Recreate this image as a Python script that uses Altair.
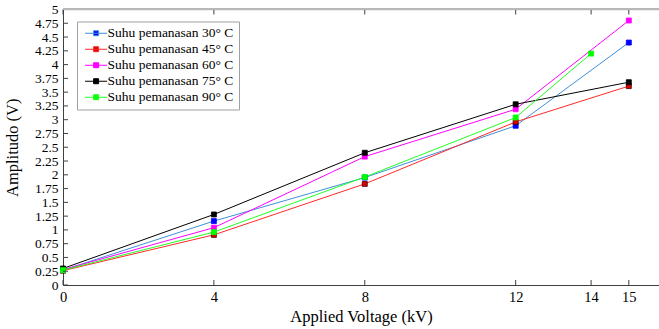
import altair as alt
import pandas as pd

# ---- data ----
series_names = ["Suhu pemanasan 30° C", "Suhu pemanasan 45° C", "Suhu pemanasan 60° C",
                "Suhu pemanasan 75° C", "Suhu pemanasan 90° C"]
voltage_30 = [0, 4, 8, 12, 15]
amp_30 = [0.27, 1.16, 1.95, 2.89, 4.40]
voltage_45 = [0, 4, 8, 12, 15]
amp_45 = [0.26, 0.91, 1.835, 2.96, 3.61]
voltage_60 = [0, 4, 8, 12, 15]
amp_60 = [0.28, 1.04, 2.33, 3.19, 4.80]
voltage_75 = [0, 4, 8, 12, 15]
amp_75 = [0.30, 1.28, 2.40, 3.28, 3.68]
voltage_90 = [0, 4, 8, 12, 14]
amp_90 = [0.27, 0.96, 1.96, 3.04, 4.20]

x_ticks = [0, 4, 8, 12, 14, 15]
y_ticks = [0, 0.25, 0.5, 0.75, 1, 1.25, 1.5, 1.75, 2, 2.25, 2.5, 2.75, 3, 3.25,
           3.5, 3.75, 4, 4.25, 4.5, 4.75, 5]

line_colors = ["#3f8fd9", "#ff2a2a", "#ff00ff", "#000000", "#22ff22"]
marker_fill = ["#0000ff", "#dd0000", "#ff00ff", "#000000", "#00ff00"]
marker_stroke = ["#0000ff", "#400000", "#ff00ff", "#000000", "#00ff00"]

xs = [voltage_30, voltage_45, voltage_60, voltage_75, voltage_90]
ys = [amp_30, amp_45, amp_60, amp_75, amp_90]
rows = []
for name, xv, yv in zip(series_names, xs, ys):
    for a, b in zip(xv, yv):
        rows.append({"series": name, "kv": a, "amp": b})
df = pd.DataFrame(rows)

W, H = 596, 275.5
FONT = "Liberation Serif"

xscale = alt.Scale(domain=[0, 15.8], nice=False, zero=False)
yscale = alt.Scale(domain=[0, 5], nice=False)

x_axis = alt.Axis(values=x_ticks, labelExpr="toString(datum.value)", ticks=False, grid=False,
                  labelPadding=5, labelFont=FONT, labelFontSize=14.5,
                  labelColor="#000000", domainColor="#404040",
                  labelFlush=False,
                  title="Applied Voltage (kV)", titleFont=FONT,
                  titleFontSize=16.5, titleFontWeight="normal",
                  titleColor="#000000", titlePadding=5)
y_axis = alt.Axis(values=y_ticks, labelExpr="toString(datum.value)", ticks=False, grid=False,
                  labelPadding=5, labelFont=FONT, labelFontSize=13.5,
                  labelColor="#000000", domainColor="#404040",
                  labelOverlap=False, labelFlush=False,
                  title="Amplitudo (V)", titleFont=FONT,
                  titleFontSize=16.5, titleFontWeight="normal",
                  titleColor="#000000", titlePadding=14)

legend = alt.Legend(title=None, orient="none", legendX=14, legendY=12,
                    strokeColor="#a0a0a0", fillColor="#ffffff", padding=5,
                    symbolType="M-1,0H5M1.32,-0.68H2.68V0.68H1.32Z",
                    symbolSize=54, symbolStrokeWidth=1, symbolOpacity=1,
                    labelFont=FONT, labelFontSize=13.5, labelColor="#000000",
                    labelOffset=12, rowPadding=1)

lines = alt.Chart(df).mark_line(strokeWidth=1).encode(
    x=alt.X("kv:Q", scale=xscale, axis=x_axis),
    y=alt.Y("amp:Q", scale=yscale, axis=y_axis),
    color=alt.Color("series:N", scale=alt.Scale(domain=series_names, range=line_colors),
                    legend=legend),
)

points = alt.Chart(df).mark_square(size=25, filled=True, opacity=1, strokeWidth=0.8).encode(
    x=alt.X("kv:Q", scale=xscale, axis=x_axis),
    y=alt.Y("amp:Q", scale=yscale, axis=y_axis),
    fill=alt.Fill("series:N", scale=alt.Scale(domain=series_names, range=marker_fill), legend=None),
    stroke=alt.Stroke("series:N", scale=alt.Scale(domain=series_names, range=marker_stroke), legend=None),
)

ydf = pd.DataFrame({"amp": y_ticks})
xdf = pd.DataFrame({"kv": x_ticks})

ytick_rules = alt.Chart(ydf).mark_rule(color="#404040", strokeWidth=1).encode(
    y=alt.Y("amp:Q", scale=yscale, axis=y_axis), x=alt.value(0), x2=alt.value(5))
xtick_bottom = alt.Chart(xdf).mark_rule(color="#404040", strokeWidth=1).encode(
    x=alt.X("kv:Q", scale=xscale, axis=x_axis), y=alt.value(H), y2=alt.value(H - 5))
xtick_top = alt.Chart(xdf).mark_rule(color="#404040", strokeWidth=1).encode(
    x=alt.X("kv:Q", scale=xscale, axis=x_axis), y=alt.value(0), y2=alt.value(5))
top_line = alt.Chart(xdf).mark_rule(color="#b8b8b8", strokeWidth=1.5).encode(
    x=alt.value(0), x2=alt.value(W), y=alt.value(-0.5))

chart = alt.layer(lines, points, ytick_rules, xtick_bottom, xtick_top, top_line).properties(
    width=W, height=H,
    padding={"left": 63, "top": 9.5, "right": 0, "bottom": 44},
    autosize=alt.AutoSizeParams(type="none"),
).configure_view(stroke=None).configure(background="#ffffff")

chart.save("out.html", embed_options={"renderer": "svg", "actions": False})
